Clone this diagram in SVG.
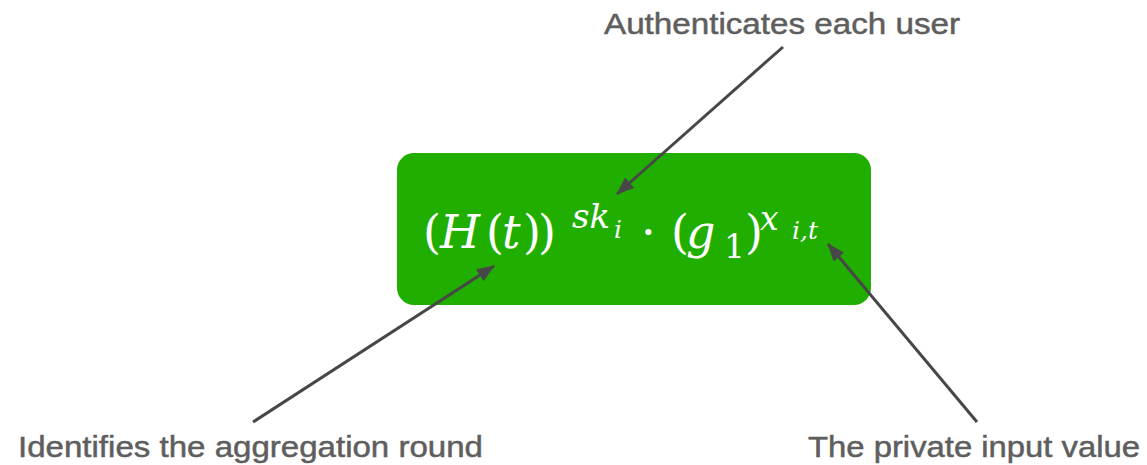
<svg xmlns="http://www.w3.org/2000/svg" width="1147" height="465" viewBox="0 0 1147 465">
<style>
.lbl{font-family:"Liberation Sans",Arial,sans-serif;font-size:30px;fill:#5e5e5e;stroke:#5e5e5e;stroke-width:0.5px;}
.m{font-family:"DejaVu Serif","Liberation Serif",serif;fill:#ffffff;font-size:46px;}
.it{font-style:italic;}
.conn{stroke:#474747;stroke-width:3;fill:none;marker-end:url(#ah);}
</style>
<defs>
<marker id="ah" markerUnits="userSpaceOnUse" markerWidth="18" markerHeight="14" viewBox="0 0 18 14" refX="17" refY="7" orient="auto">
<path d="M0,0 L18,7 L0,14 Z" fill="#474747"/>
</marker>
</defs>
<rect width="1147" height="465" fill="#ffffff"/>
<g id="formula">
<rect x="397" y="153" width="474" height="152" rx="17" fill="#20ae00"/>
<text class="m" y="248"><tspan x="423">(</tspan><tspan class="it" x="440">H</tspan><tspan x="486">(</tspan><tspan class="it" x="502">t</tspan><tspan x="523">)</tspan><tspan x="538">)</tspan><tspan class="it" x="572" y="228" font-size="34">sk</tspan><tspan class="it" x="614" y="238" font-size="25">i</tspan><tspan x="641" y="248">·</tspan><tspan x="671">(</tspan><tspan class="it" x="686">g</tspan><tspan x="724" y="258" font-size="33">1</tspan><tspan x="745" y="248">)</tspan><tspan class="it" x="760" y="230" font-size="33">x</tspan><tspan class="it" x="792" y="239" font-size="25">i,t</tspan></text>
</g>
<g id="label-user">
<text class="lbl" x="782" y="34" text-anchor="middle" textLength="356" lengthAdjust="spacingAndGlyphs">Authenticates each user</text>
</g>
<g id="label-round">
<text class="lbl" x="18" y="457" textLength="465" lengthAdjust="spacingAndGlyphs">Identifies the aggregation round</text>
</g>
<g id="label-input">
<text class="lbl" x="808" y="457" textLength="332" lengthAdjust="spacingAndGlyphs">The private input value</text>
</g>
<g id="connectors">
<line class="conn" x1="783" y1="47" x2="617" y2="194"/>
<line class="conn" x1="253" y1="422" x2="494" y2="266"/>
<line class="conn" x1="977" y1="422" x2="828" y2="244"/>
</g>
</svg>
